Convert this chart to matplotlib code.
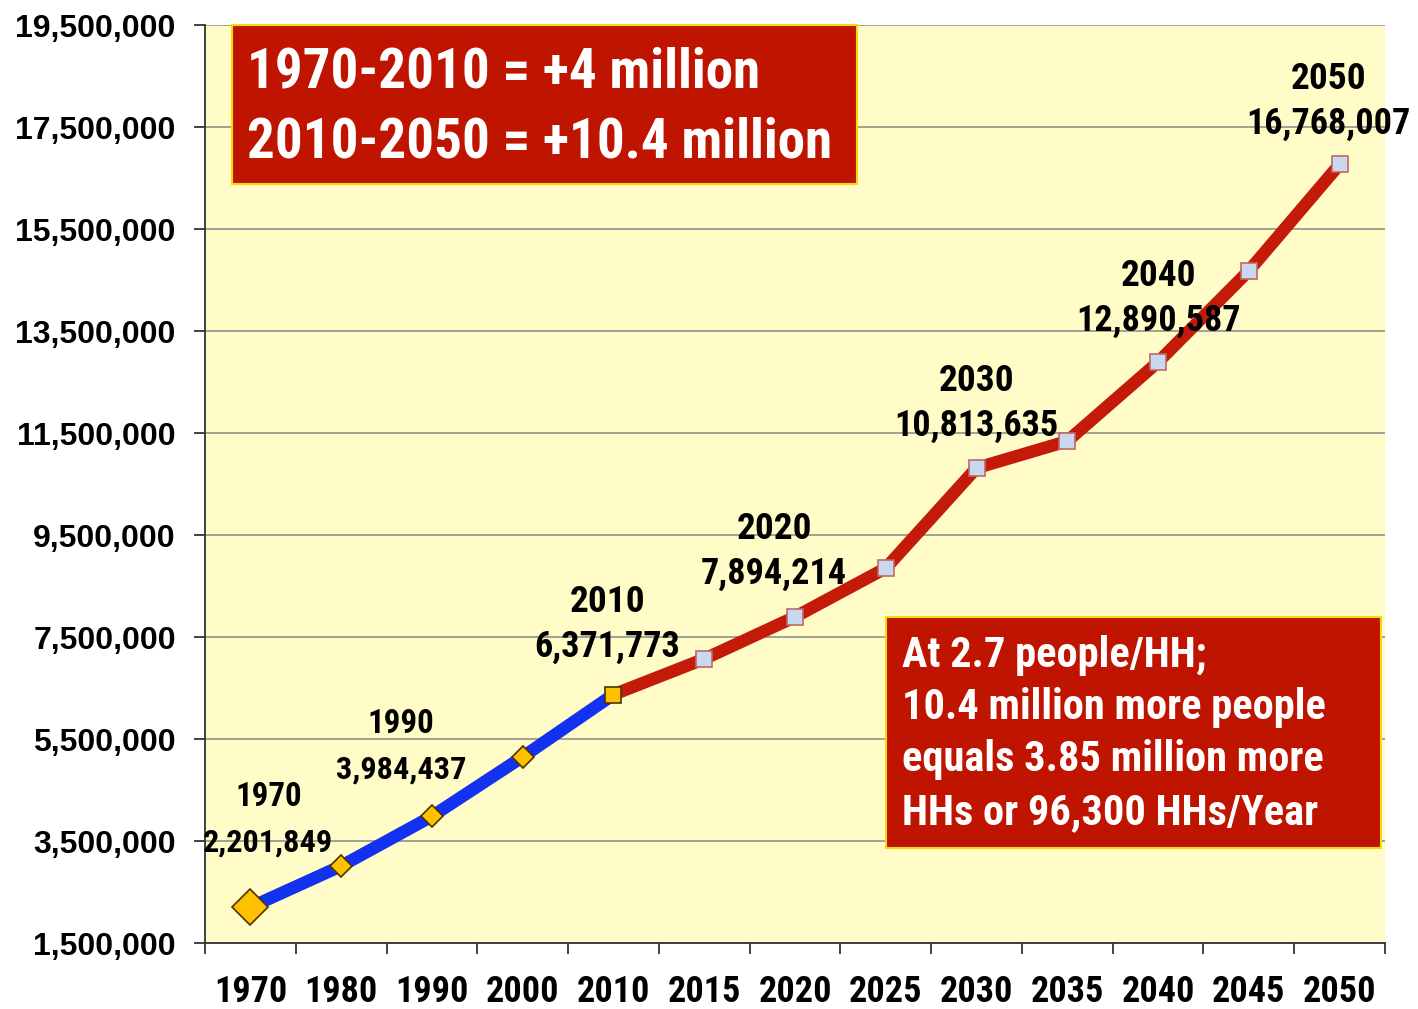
import matplotlib
matplotlib.use("Agg")
import matplotlib.pyplot as plt
from matplotlib import font_manager as fm
from matplotlib.patches import Rectangle
from matplotlib.ticker import FuncFormatter, FixedLocator

years = ["1970", "1980", "1990", "2000", "2010", "2015", "2020",
         "2025", "2030", "2035", "2040", "2045", "2050"]
population = [2201849, 3010000, 3984437, 5150000, 6371773, 7070000, 7894214,
              8850000, 10813635, 11340000, 12890587, 14680000, 16768007]
labelled = ["1970", "1990", "2010", "2020", "2030", "2040", "2050"]
# label offsets from the point, in pixels (dx, dy of the value line)
label_offsets = {"1970": (18, 65), "1990": (-31, 47), "2010": (-6, 48),
                 "2020": (-21, 43), "2030": (0, 42), "2040": (0, 41),
                 "2050": (-11, 40)}
# the two earliest labels are set a bit smaller
small_labels = ["1970", "1990"]
hist_end = years.index("2010")
y_ticks = list(range(1500000, 19500001, 2000000))

summary_lines = ["1970-2010 = +4 million", "2010-2050 = +10.4 million"]
hh_lines = ["At 2.7 people/HH;", "10.4 million more people",
            "equals 3.85 million more", "HHs or 96,300 HHs/Year"]

BG = "#FFFCC8"
BLUE = "#1232F0"
RED = "#C41A0A"
BOX_RED = "#BF1400"
BOX_EDGE = "#F2DC10"


def is_bold(w):
    if isinstance(w, int):
        return w >= 600
    return w in ("bold", "heavy", "black", "extra bold", "demibold", "semibold")


def narrow_font():
    # look for a condensed bold face, best first
    prefs = ["Liberation Sans Narrow", "Arial Narrow", "Roboto Condensed",
             "Open Sans Condensed", "Noto Sans", "DejaVu Sans"]
    found = {}
    for f in fm.fontManager.ttflist:
        condensed = ("Narrow" in f.name or "Condensed" in f.name
                     or "condensed" in str(f.stretch))
        if condensed and is_bold(f.weight) and f.style == "normal":
            found.setdefault(f.name, f.fname)
    for name in prefs:
        if name in found:
            return fm.FontProperties(fname=found[name])
    if found:
        return fm.FontProperties(fname=next(iter(found.values())))
    return fm.FontProperties(family="Liberation Sans", weight="bold")


fig = plt.figure(figsize=(14.18, 10.09), dpi=100)
renderer = fig.canvas.get_renderer()
NARROW = narrow_font()
probe = NARROW.copy()
probe.set_size(24.5)
w, _, _ = renderer.get_text_width_height_descent("2,201,849", probe, ismath=False)
fit = min(1.2, 125.0 / w)


def nprop(size):
    p = NARROW.copy()
    p.set_size(size * fit)
    return p


ax = fig.add_axes([205 / 1418, 66 / 1009, 1180 / 1418, 918 / 1009])
ax.set_facecolor(BG)

x = list(range(len(years)))
hx, hy = x[:hist_end + 1], population[:hist_end + 1]
px, py = x[hist_end:], population[hist_end:]

ax.plot(px, py, color=RED, lw=9, solid_capstyle="round", zorder=3)
ax.plot(hx, hy, color=BLUE, lw=9, solid_capstyle="round", zorder=3)
ax.plot(px[1:], py[1:], ls="none", marker="s", ms=11, mfc="#C8D8F0",
        mec="#C06868", mew=1.2, zorder=4)
ax.plot(hx[1:-1], hy[1:-1], ls="none", marker="D", ms=11, mfc="#FFC000",
        mec="#4A3500", mew=1.2, zorder=4)
ax.plot(hx[0], hy[0], ls="none", marker="D", ms=18, mfc="#FFC000",
        mec="#4A3500", mew=1.2, zorder=4)
ax.plot(hx[-1], hy[-1], ls="none", marker="s", ms=11, mfc="#FFC000",
        mec="#4A3500", mew=1.2, zorder=5)

for yr in labelled:
    i = years.index(yr)
    dx, dy = label_offsets[yr]
    small = yr in small_labels
    ax.annotate(f"{population[i]:,}", (x[i], population[i]),
                xytext=(dx * 0.72, dy * 0.72), textcoords="offset points",
                ha="center", va="center",
                fontproperties=nprop(25.5 if small else 28.5),
                zorder=6, annotation_clip=False)
    ax.annotate(yr, (x[i], population[i]),
                xytext=(dx * 0.72, (dy + 45) * 0.72), textcoords="offset points",
                ha="center", va="center",
                fontproperties=nprop(26 if small else 29.5),
                zorder=6, annotation_clip=False)

ax.set_xlim(-0.5, len(years) - 0.5)
ax.set_ylim(y_ticks[0], y_ticks[-1])
ax.yaxis.set_major_locator(FixedLocator(y_ticks))
ax.yaxis.set_major_formatter(FuncFormatter(lambda v, p: f"{int(v):,}"))
ax.grid(axis="y", color="#9A9A90", lw=1.3, zorder=1)
ax.set_axisbelow(True)

ax.set_xticks(x)
ax.set_xticklabels(years)
ax.xaxis.set_minor_locator(FixedLocator([i - 0.5 for i in range(len(years) + 1)]))
ax.tick_params(axis="x", which="major", length=0, pad=22)
ax.tick_params(axis="x", which="minor", length=8, width=1.3, color="#333333")
ax.tick_params(axis="y", length=8, width=1.3, color="#333333", pad=13)
for lab in ax.get_xticklabels():
    lab.set_fontproperties(nprop(28.5))
for lab in ax.get_yticklabels():
    lab.set_fontfamily(["Liberation Sans", "DejaVu Sans"])
    lab.set_fontsize(23)
    lab.set_fontweight("bold")

for side in ["top", "right"]:
    ax.spines[side].set_visible(False)
for side in ["left", "bottom"]:
    ax.spines[side].set_color("#333333")
    ax.spines[side].set_linewidth(1.3)


def to_ax(px_x, px_y):
    # figure pixel (from top-left) to axes fraction
    return (px_x - 205) / 1180, (943 - px_y) / 918


# summary boxes
x0, y1 = to_ax(232, 184)
x1, y0 = to_ax(857, 25)
ax.add_patch(Rectangle((x0, y1), x1 - x0, y0 - y1, transform=ax.transAxes,
                       facecolor=BOX_RED, edgecolor=BOX_EDGE, lw=1.5, zorder=7,
                       clip_on=False))
for line, py_ in zip(summary_lines, [72, 142]):
    tx, ty = to_ax(247, py_)
    ax.text(tx, ty, line, transform=ax.transAxes, ha="left", va="center",
            color="white", fontproperties=nprop(43.5), zorder=8)

x0, y1 = to_ax(886, 848)
x1, y0 = to_ax(1381, 617)
ax.add_patch(Rectangle((x0, y1), x1 - x0, y0 - y1, transform=ax.transAxes,
                       facecolor=BOX_RED, edgecolor=BOX_EDGE, lw=1.5, zorder=7))
for line, py_ in zip(hh_lines, [655, 707, 760, 813]):
    tx, ty = to_ax(902, py_)
    ax.text(tx, ty, line, transform=ax.transAxes, ha="left", va="center",
            color="white", fontproperties=nprop(33.5), zorder=8)

fig.savefig("out.png", dpi=100)
